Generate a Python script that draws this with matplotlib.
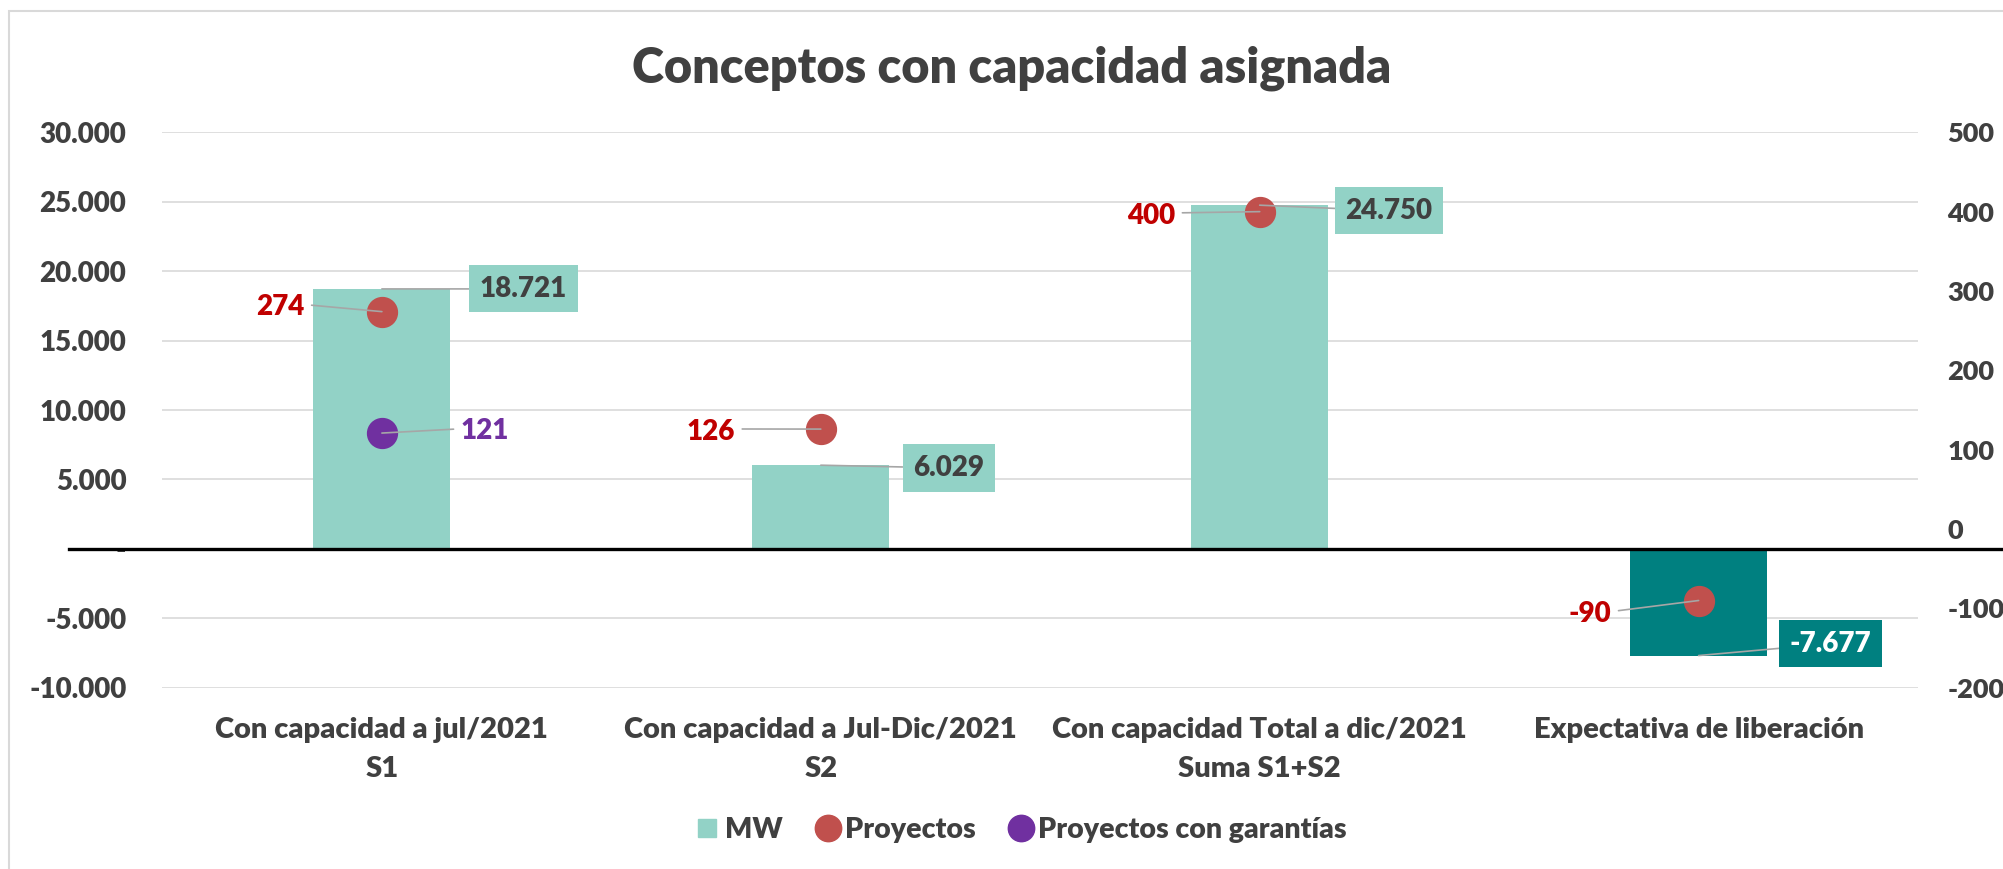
import numpy as np
import matplotlib
matplotlib.use("Agg")
import matplotlib.pyplot as plt
from matplotlib.lines import Line2D
from matplotlib.patches import Rectangle

plt.rcParams['font.family'] = ['Lato', 'DejaVu Sans']
plt.rcParams['font.weight'] = 'heavy'

# data
categorias = ["Con capacidad a jul/2021\nS1",
              "Con capacidad a Jul-Dic/2021\nS2",
              "Con capacidad Total a dic/2021\nSuma S1+S2",
              "Expectativa de liberación"]
mw = [18721, 6029, 24750, -7677]
proyectos = [274, 126, 400, -90]
proyectos_garantias = [121, None, None, None]

mw_ticks = [-10000, -5000, 0, 5000, 10000, 15000, 20000, 25000, 30000]
proy_ticks = [-200, -100, 0, 100, 200, 300, 400, 500]

# colours / layout
GRIS = '#404040'
C_BAR = '#92D2C6'
C_BAR_NEG = '#008080'
C_PROY = '#C0504D'
C_GAR = '#7030A0'
C_LBL_PROY = '#C00000'
C_LEADER = '#A6A6A6'

# label offsets in points (dx, dy)
off_mw = [(102, 0), (92, -2), (93, -4), (95, 8.5)]
off_proy = [(-73, 5), (-79, 0), (-78, -1), (-78, -8)]
off_gar = [(74, 3)]


def fmt(v):
    if v == 0:
        return '-'
    return f"{v:,.0f}".replace(',', '.')


fig = plt.figure(figsize=(20.03, 8.69), dpi=100)
ax = fig.add_axes([0.0811, 0.2085, 0.8765, 0.6393])
ax2 = ax.twinx()

x = np.arange(len(categorias))
colores = [C_BAR if v >= 0 else C_BAR_NEG for v in mw]
ax.bar(x, mw, width=0.312, color=colores, zorder=2)
ax.set_xlim(-0.5, len(categorias) - 0.5)
ax.set_ylim(-10000, 30000)
ax.set_yticks(mw_ticks)
ax.set_yticklabels([fmt(v) for v in mw_ticks])
ax.yaxis.grid(True, color='#D9D9D9', lw=1.2)
ax.set_axisbelow(True)
ax.set_xticks(x)
ax.set_xticklabels(categorias, fontsize=21, color=GRIS, linespacing=1.6)
ax.tick_params(axis='x', length=0, pad=21)
ax.tick_params(axis='y', length=0, pad=26, labelsize=20, labelcolor=GRIS)
for s in ax.spines.values():
    s.set_visible(False)
ax.axhline(0, xmin=-0.053, xmax=1.05, color='black', lw=2.4, clip_on=False, zorder=3)

ax2.set_ylim(-200, 500)
ax2.set_yticks(proy_ticks)
ax2.set_yticklabels([str(v) for v in proy_ticks])
ax2.tick_params(axis='y', length=0, pad=21, labelsize=19.5, labelcolor=GRIS)
for s in ax2.spines.values():
    s.set_visible(False)

ax2.plot(x, proyectos, ls='none', marker='o', ms=21.5, color=C_PROY, zorder=4)
gx = [i for i, v in enumerate(proyectos_garantias) if v is not None]
gy = [v for v in proyectos_garantias if v is not None]
ax2.plot(gx, gy, ls='none', marker='o', ms=21.5, color=C_GAR, zorder=4)

# bar value labels (boxes)
for i, v in enumerate(mw):
    fc = C_BAR if v >= 0 else C_BAR_NEG
    tc = GRIS if v >= 0 else 'white'
    ax2.annotate(fmt(v), xy=(i, v), xycoords=ax.transData,
                 xytext=off_mw[i], textcoords='offset points',
                 ha='center', va='center', fontsize=20, color=tc,
                 bbox=dict(boxstyle='square,pad=0.38', fc=fc, ec='none'),
                 arrowprops=dict(arrowstyle='-', color=C_LEADER, lw=1.2,
                                 shrinkA=0, shrinkB=0), zorder=5)

# project labels
for i, v in enumerate(proyectos):
    dx, dy = off_proy[i]
    ax2.annotate(str(v), xy=(i, v), xytext=(dx, dy), textcoords='offset points',
                 ha='center', va='center_baseline', fontsize=20, color=C_LBL_PROY,
                 arrowprops=dict(arrowstyle='-', color=C_LEADER, lw=1.2,
                                 relpos=(1, 0.6), shrinkA=3, shrinkB=0), zorder=5)

for k, (i, v) in enumerate(zip(gx, gy)):
    ax2.annotate(str(v), xy=(i, v), xytext=off_gar[k], textcoords='offset points',
                 ha='center', va='center_baseline', fontsize=20, color=C_GAR,
                 arrowprops=dict(arrowstyle='-', color=C_LEADER, lw=1.2,
                                 relpos=(0, 0.6), shrinkA=3, shrinkB=0), zorder=5)

fig.text(0.505, 0.9056, "Conceptos con capacidad asignada", ha='center', va='baseline',
         fontsize=35, color=GRIS)

handles = [Line2D([], [], ls='none', marker='s', ms=13, color=C_BAR),
           Line2D([], [], ls='none', marker='o', ms=19, color=C_PROY),
           Line2D([], [], ls='none', marker='o', ms=19, color=C_GAR)]
leg = fig.legend(handles, ["MW", "Proyectos", "Proyectos con garantías"],
                 loc='center', bbox_to_anchor=(0.51, 0.045), ncol=3, frameon=False,
                 fontsize=20.5, handlelength=0.8, handletextpad=0.2, columnspacing=1.2)
for t in leg.get_texts():
    t.set_color(GRIS)

fig.patches.append(Rectangle((0.0046, -0.1), 2, 1.0877, transform=fig.transFigure,
                             fill=False, ec='#D9D9D9', lw=1.5))

fig.savefig("out.png", dpi=100)
